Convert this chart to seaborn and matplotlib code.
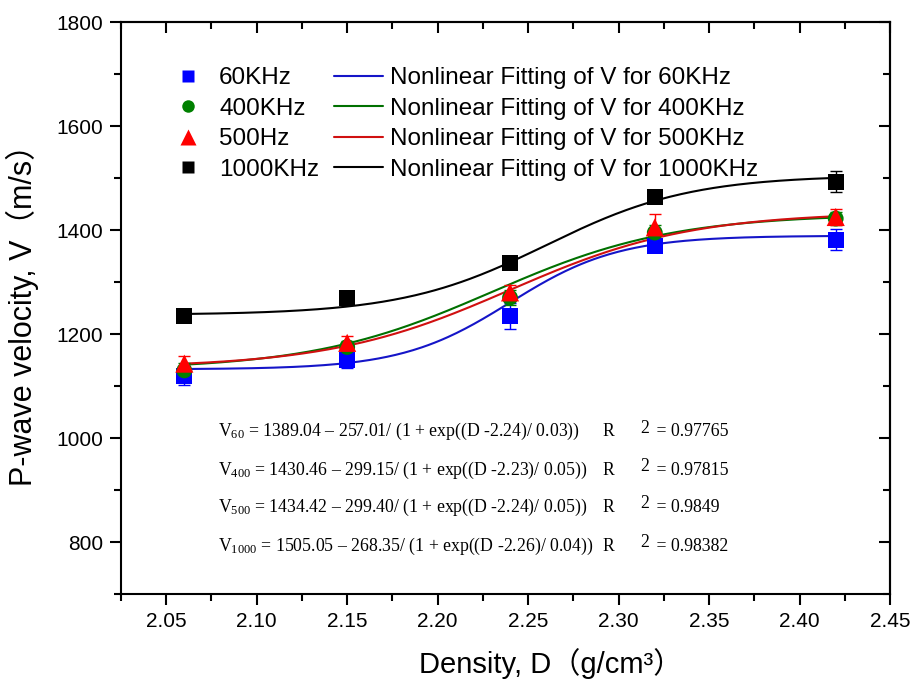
import numpy as np
import pandas as pd
import matplotlib
matplotlib.use("Agg")
import matplotlib.pyplot as plt
from matplotlib.ticker import MultipleLocator
from matplotlib.lines import Line2D
import seaborn as sns

# ---- data ----
density = [2.06, 2.15, 2.24, 2.32, 2.42]
v60 = [1120, 1150, 1235, 1370, 1381]
v400 = [1130, 1175, 1270, 1395, 1422]
v500 = [1143, 1183, 1280, 1405, 1425]
v1000 = [1235, 1270, 1337, 1463, 1493]
err60 = [18, 15, 25, 12, 20]
err400 = [15, 12, 15, 15, 12]
err500 = [15, 14, 15, 25, 15]
err1000 = [8, 10, 8, 8, 20]

series_labels = ["60KHz", "400KHz", "500Hz", "1000KHz"]
fit_labels = ["Nonlinear Fitting of V for 60KHz", "Nonlinear Fitting of V for 400KHz",
              "Nonlinear Fitting of V for 500KHz", "Nonlinear Fitting of V for 1000KHz"]
# fitted Boltzmann parameters: A2, A2-A1, x0, dx
fit_A2 = [1389.04, 1430.46, 1434.42, 1505.05]
fit_span = [257.01, 299.15, 299.40, 268.35]
fit_x0 = [2.24, 2.23, 2.24, 2.26]
fit_dx = [0.03, 0.05, 0.05, 0.04]
r2_text = ["0.97765", "0.97815", "0.9849", "0.98382"]
eq_sub = ["60", "400", "500", "1000"]
xtick_labels = ["2.05", "2.10", "2.15", "2.20", "2.25", "2.30", "2.35", "2.40", "2.45"]
xtick_pos = [2.05, 2.10, 2.15, 2.20, 2.25, 2.30, 2.35, 2.40, 2.45]
ytick_pos = [800, 1000, 1200, 1400, 1600, 1800]

marker_colors = ["#0000ff", "#008000", "#ff0000", "#000000"]
line_colors = ["#1515c8", "#007000", "#d01010", "#000000"]
markers = ["s", "o", "^", "s"]

sns.set_style("ticks")
plt.rcParams["font.family"] = ["Liberation Sans", "Noto Sans CJK SC"]
plt.rcParams["text.color"] = "black"
plt.rcParams["axes.labelcolor"] = "black"
plt.rcParams["xtick.color"] = "black"
plt.rcParams["ytick.color"] = "black"
plt.rcParams["mathtext.fontset"] = "custom"
plt.rcParams["mathtext.rm"] = "Liberation Serif"
plt.rcParams["mathtext.it"] = "Liberation Serif"
plt.rcParams["mathtext.bf"] = "Liberation Serif"

fig = plt.figure(figsize=(9.13, 6.82), dpi=100)
ax = fig.add_axes([121/913, 1-594/682, (890-121)/913, (594-22)/682])

values = [v60, v400, v500, v1000]
errs = [err60, err400, err500, err1000]
D = np.linspace(2.06, 2.42, 300)

scatter_handles = []
line_handles = []
for i in range(4):
    fitV = fit_A2[i] - fit_span[i] / (1 + np.exp((D - fit_x0[i]) / fit_dx[i]))
    sns.lineplot(x=D, y=fitV, ax=ax, color=line_colors[i], lw=1.5, zorder=2)
for i in range(4):
    ax.errorbar(density, values[i], yerr=errs[i], fmt="none", ecolor=marker_colors[i],
                elinewidth=1.0, capsize=4, capthick=1.0, zorder=3)
    df = pd.DataFrame({"D": density, "V": values[i]})
    sns.scatterplot(data=df, x="D", y="V", ax=ax, marker=markers[i], color=marker_colors[i],
                    s=130 if markers[i] != "^" else 170, edgecolor="none", zorder=4)
    scatter_handles.append(Line2D([], [], ls="none", marker=markers[i], color=marker_colors[i],
                                  markersize=9 if markers[i] != "^" else 12, markeredgecolor="none"))
    line_handles.append(Line2D([], [], color=line_colors[i], lw=1.5))

ax.set_xlim(2.025, 2.45)
ax.set_ylim(700, 1800)
ax.set_xticks(xtick_pos)
ax.set_xticklabels(xtick_labels)
ax.xaxis.set_minor_locator(MultipleLocator(0.025))
ax.set_yticks(ytick_pos)
ax.yaxis.set_minor_locator(MultipleLocator(100))
ax.tick_params(axis="both", which="major", direction="out", length=8, width=1.5,
               labelsize=15, top=False, right=False, pad=5, colors="black")
ax.tick_params(axis="both", which="minor", direction="out", length=5, width=1.5,
               top=False, right=False, colors="black")

# top / right inward ticks
ax_top = ax.secondary_xaxis("top")
ax_top.set_xticks(xtick_pos)
ax_top.xaxis.set_minor_locator(MultipleLocator(0.025))
ax_top.tick_params(which="major", direction="in", length=8, width=1.5, labeltop=False)
ax_top.tick_params(which="minor", direction="in", length=5, width=1.5)
ax_top.set_xticklabels([])
ax_right = ax.secondary_yaxis("right")
ax_right.set_yticks(ytick_pos)
ax_right.yaxis.set_minor_locator(MultipleLocator(100))
ax_right.tick_params(which="major", direction="in", length=8, width=1.5, labelright=False)
ax_right.tick_params(which="minor", direction="in", length=5, width=1.5)
ax_right.set_yticklabels([])

for sp in ax.spines.values():
    sp.set_linewidth(1.5)
    sp.set_color("black")
    sp.set_visible(True)
ax_top.spines["top"].set_linewidth(1.5)
ax_right.spines["right"].set_linewidth(1.5)

ax.set_xlabel("Density, D（g/cm³）", fontsize=21)
ax.xaxis.set_label_coords(0.559, -0.094)
ax.set_ylabel("P-wave velocity, V（m/s）", fontsize=22, labelpad=12)

leg = ax.legend(scatter_handles + line_handles, series_labels + fit_labels, ncol=2,
                loc="upper left", bbox_to_anchor=(0.055, 0.921), frameon=False,
                borderpad=0, borderaxespad=0,
                fontsize=17.5, handlelength=2.0, handletextpad=0.3, columnspacing=0.6,
                labelspacing=0.35)

# equations
eq_y = [1012, 938, 867, 792]
for i in range(4):
    eq = (r"$\mathregular{V_{%s}}$ = %.2f – %.2f/ (1 + exp((D -%.2f)/ %.2f))"
          % (eq_sub[i], fit_A2[i], fit_span[i], fit_x0[i], fit_dx[i]))
    ax.text(2.0786, eq_y[i], eq, family="Liberation Serif", fontsize=12.8, va="center", ha="left")
    ax.text(2.291, eq_y[i], "R", family="Liberation Serif", fontsize=12.8, va="center", ha="left")
    ax.text(2.312, eq_y[i] + 7, "2", family="Liberation Serif", fontsize=12.8, va="center", ha="left")
    ax.text(2.3185, eq_y[i], " = " + r2_text[i], family="Liberation Serif", fontsize=12.8,
            va="center", ha="left")

fig.savefig("out.png", dpi=100)
